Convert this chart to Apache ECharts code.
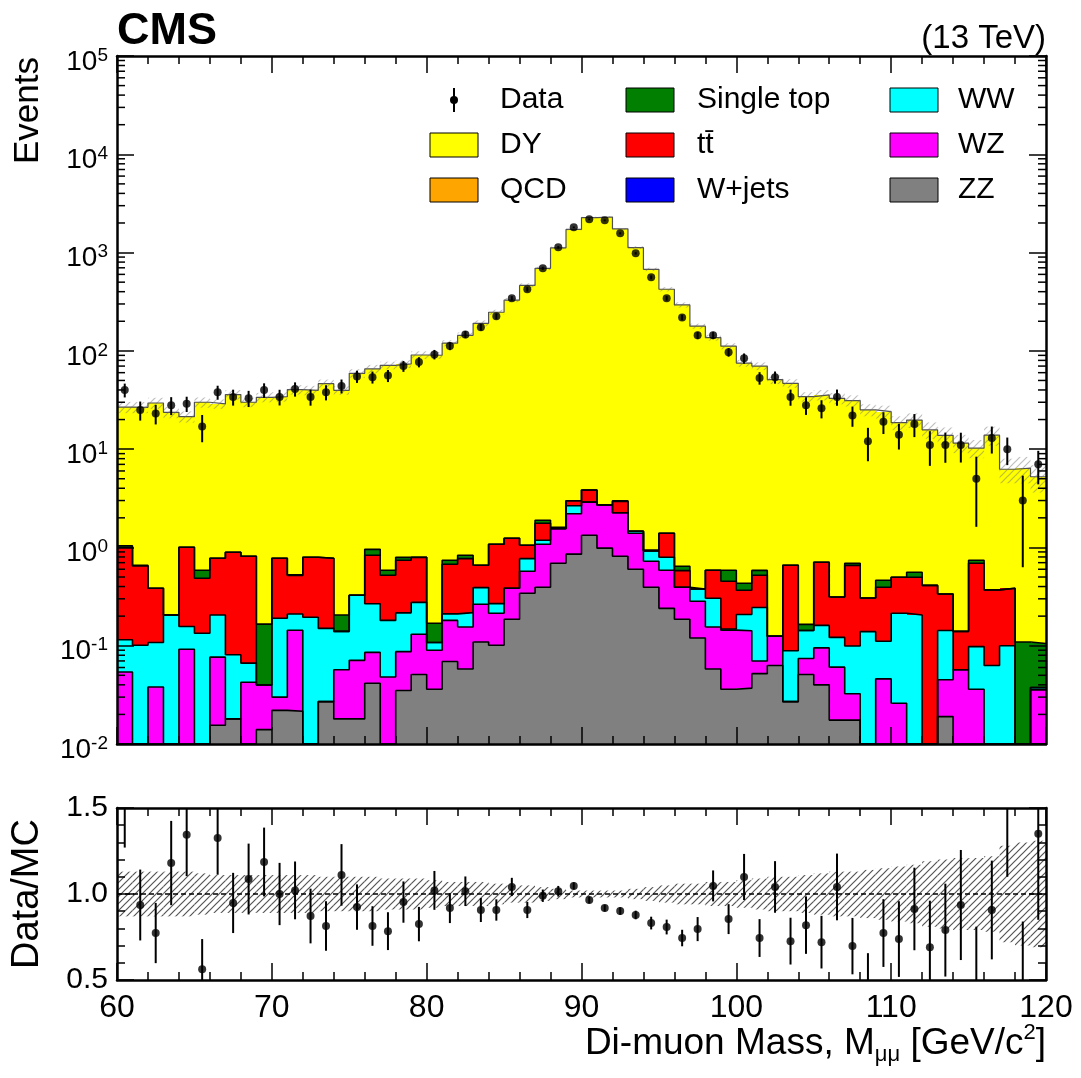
<!DOCTYPE html>
<html>
<head>
<meta charset="utf-8">
<script src="https://cdn.jsdelivr.net/npm/echarts@6.0.0/dist/echarts.min.js"></script>
<style>
  html, body { margin: 0; padding: 0; background: #fff; }
  #chart { width: 1081px; height: 1078px; }
</style>
</head>
<body>
<div id="chart"></div>
<script>
// binning: 60 bins of 1 GeV from 60 to 120
const xLow = 60
const xHigh = 120
const binW = 1
const nBins = 60

// MC components, events per bin (stack order: ZZ, WZ, WW, ttbar, single top, DY)
const zz = [0, 0, 0, 0, 0, 0, 0.0155, 0.018, 0, 0.014, 0.022, 0.0215, 0, 0.027, 0.018, 0.018, 0.0415, 0, 0.035, 0.051,
  0.036, 0.069, 0.058, 0.109, 0.101, 0.186, 0.342, 0.393, 0.690, 0.854, 1.33, 0.983, 0.813, 0.599, 0.393, 0.240, 0.186, 0.120, 0.058, 0.036,
  0.037, 0.052, 0.063, 0.027, 0.051, 0.040, 0.0175, 0.0175, 0, 0, 0, 0, 0, 0.019, 0, 0, 0, 0, 0, 0]
const wz = [0.054, 0, 0.038, 0, 0.092, 0, 0.061, 0, 0.0425, 0.026, 0.008, 0.122, 0, 0, 0.039, 0.053, 0.044, 0.048, 0.052, 0.080,
  0.054, 0.112, 0.097, 0.155, 0.113, 0.198, 0.230, 0.683, 0.865, 1.35, 1.56, 1.73, 1.44, 0.795, 0.330, 0.345, 0.207, 0.163, 0.097, 0.108,
  0.105, 0.018, 0.062, 0, 0.023, 0.055, 0.043, 0.015, 0, 0.046, 0.026, 0, 0, 0.026, 0.057, 0.036, 0, 0, 0, 0.0355]
const ww = [0.061, 0.101, 0.070, 0.205, 0.065, 0.134, 0.129, 0.063, 0.024, 0, 0.160, 0.067, 0.195, 0.123, 0.083, 0.255, 0.182, 0.133, 0.129, 0.145,
  0.018, 0.030, 0.062, 0.126, 0.054, 0, 0.198, 0.106, 0, 0.45, 0, 0, 0, 0.066, 0.197, 0.209, 0, 0.094, 0.149, 0.004,
  0.066, 0.175, 0, 0.062, 0.069, 0.066, 0.061, 0.067, 0.139, 0.065, 0.188, 0.205, 0, 0.098, 0, 0.062, 0.063, 0.100, 0, 0.002]
const ttbar = [0.889, 0.547, 0.276, 0, 0.847, 0.352, 0.571, 0.813, 0.747, 0, 0.586, 0.307, 0.599, 0.626, 0, 0, 0.564, 0.341, 0.524, 0.518,
  0, 0.463, 0.553, 0.268, 0.811, 0.856, 0.281, 0.580, 0.03, 0.33, 0.95, 0, 0.68, 0, 0, 0.600, 0.188, 0, 0.281, 0.305,
  0.159, 0.276, 0, 0.569, 0, 0.546, 0.192, 0.558, 0.167, 0.282, 0.283, 0.292, 0.411, 0.193, 0.083, 0.592, 0.307, 0.284, 0, 0]
const singleTop = [0.036, 0.01, 0, 0, 0, 0.099, 0, 0, 0, 0.126, 0, 0.008, 0, 0, 0.065, 0, 0.125, 0.063, 0.053, 0,
  0.061, 0.067, 0.062, 0, 0, 0, 0, 0.128, 0.02, 0, 0, 0, 0.05, 0, 0.022, 0, 0.062, 0, 0, 0.132,
  0.065, 0.063, 0, 0, 0.022, 0, 0, 0.032, 0, 0.070, 0, 0.062, 0, 0, 0, 0.051, 0, 0, 0.109, 0.068]
const dy = [25.7, 26.0, 29.1, 23.5, 20.4, 29.4, 28.1, 35.0, 29.2, 33.5, 33.4, 39.8, 38.9, 45.6, 39.5, 58.8, 64.5, 70.7, 72.8, 90.0,
  90.0, 119, 143, 190, 246, 327, 462, 690, 1115, 1717, 2266, 2297, 1742, 1124, 674, 422, 293, 178, 136, 111,
  74.6, 69.4, 50.9, 46.1, 34.0, 34.9, 32.6, 30.5, 24.8, 23.6, 18.1, 19.2, 15.3, 13.5, 11.4, 9.5, 13.5, 5.86, 6.3, 5.13]

// relative MC uncertainty per bin
const mcRelErr = [0.13, 0.13, 0.13, 0.13, 0.13, 0.12, 0.11, 0.11, 0.11, 0.11, 0.11, 0.11, 0.11, 0.10, 0.10, 0.10, 0.10, 0.09, 0.09, 0.09,
  0.08, 0.07, 0.07, 0.07, 0.06, 0.05, 0.05, 0.04, 0.03, 0.02, 0.02, 0.02, 0.02, 0.03, 0.04, 0.05, 0.06, 0.06, 0.07, 0.07,
  0.08, 0.09, 0.10, 0.10, 0.11, 0.12, 0.13, 0.13, 0.14, 0.15, 0.16, 0.17, 0.19, 0.20, 0.21, 0.21, 0.22, 0.28, 0.30, 0.31]

// observed events
const dataCounts = [40, 25, 23, 28, 29, 17, 38, 34, 33, 40, 34, 41, 34, 38, 44, 55, 54, 56, 70, 77,
  92, 112, 147, 174, 225, 343, 423, 692, 1130, 1807, 2178, 2128, 1570, 982, 560, 343, 219, 144, 144, 97,
  84, 53, 54, 34, 28, 26, 34, 22, 12, 19, 14, 18, 11, 11, 11, 5, 13, 10, 3, 7]

// data / MC and its error
const ratio = [1.51, 0.936, 0.773, 1.18, 1.344, 0.563, 1.326, 0.948, 1.087, 1.186, 1.0, 1.021, 0.872, 0.814, 1.111, 0.924, 0.814, 0.784, 0.953, 0.825,
  1.021, 0.918, 1.016, 0.907, 0.907, 1.041, 0.907, 0.990, 1.016, 1.047, 0.965, 0.918, 0.901, 0.878, 0.831, 0.808, 0.744, 0.796, 1.047, 0.854,
  1.099, 0.744, 1.041, 0.726, 0.819, 0.720, 1.041, 0.697, 0.478, 0.773, 0.738, 0.913, 0.691, 0.790, 0.936, 0.48, 0.907, 1.60, 0.47, 1.35]
const ratioErr = [0.24, 0.206, 0.175, 0.245, 0.24, 0.175, 0.214, 0.175, 0.206, 0.2, 0.181, 0.168, 0.159, 0.144, 0.179, 0.132, 0.115, 0.11, 0.12, 0.10,
  0.113, 0.087, 0.086, 0.07, 0.062, 0.053, 0.047, 0.036, 0.031, 0.021, 0.02, 0.02, 0.022, 0.025, 0.037, 0.043, 0.048, 0.07, 0.09, 0.087,
  0.134, 0.11, 0.15, 0.136, 0.167, 0.153, 0.194, 0.164, 0.178, 0.197, 0.22, 0.24, 0.27, 0.27, 0.32, 0.33, 0.287, 0.5, 0.37, 0.5]

const yTickExp = [-2, -1, 0, 1, 2, 3, 4, 5]

const FONT = "'Liberation Sans', Arial, Helvetica, sans-serif"
const YMIN = 0.01
const YMAX = 1e5

const stackDefs = [
  { name: 'ZZ', data: zz, color: '#808080' },
  { name: 'WZ', data: wz, color: '#ff00ff' },
  { name: 'WW', data: ww, color: '#00ffff' },
  { name: 'ttbar', data: ttbar, color: '#ff0000' },
  { name: 'Single top', data: singleTop, color: '#007f00' },
  { name: 'DY', data: dy, color: '#ffff00' }
]

// cumulative stack
let running = new Array(nBins).fill(0)
const layers = stackDefs.map(d => {
  const lo = running.slice()
  running = running.map((v, i) => v + d.data[i])
  return Object.assign({}, d, { lo: lo, hi: running.slice() })
})
const mcTotal = running

// hatch pattern for uncertainty bands
function hatch(color, size, lw) {
  const c = document.createElement('canvas')
  c.width = size
  c.height = size
  const ctx = c.getContext('2d')
  ctx.strokeStyle = color
  ctx.lineWidth = lw
  ctx.beginPath()
  ctx.moveTo(0, size); ctx.lineTo(size, 0)
  ctx.moveTo(-size / 2, size / 2); ctx.lineTo(size / 2, -size / 2)
  ctx.moveTo(size / 2, size * 1.5); ctx.lineTo(size * 1.5, size / 2)
  ctx.stroke()
  return c
}
const hatchMain = { image: hatch('rgba(110,110,110,0.45)', 7, 1.2), repeat: 'repeat' }
const hatchRatio = { image: hatch('#555555', 7, 1.2), repeat: 'repeat' }

function rectSeries(xi, yi, rows, fill, z) {
  // rows: [xLo, xHi, yLo, yHi]
  const solid = typeof fill === 'string'
  return {
    type: 'custom', xAxisIndex: xi, yAxisIndex: yi, clip: true, z: z, silent: true,
    encode: { x: 0, y: 3 },
    data: rows,
    renderItem(params, api) {
      const lo = Math.max(api.value(2), yi < 2 ? YMIN : -1)
      const hi = api.value(3)
      if (!(hi > lo)) return null
      const p0 = api.coord([api.value(0), hi])
      const p1 = api.coord([api.value(1), lo])
      let x0 = p0[0], y0 = p0[1], x1 = p1[0], y1 = p1[1]
      if (solid) {
        // snap to pixels so neighbouring bins join without seams
        x0 = Math.round(x0); x1 = Math.round(x1); y0 = Math.round(y0); y1 = Math.round(y1)
      }
      return {
        type: 'rect',
        shape: { x: x0, y: y0, width: x1 - x0, height: y1 - y0 },
        style: { fill: fill }
      }
    }
  }
}

function outlineSeries(vals, color, width) {
  const pts = vals.map((v, i) => [xLow + i * binW, Math.max(v, YMIN)])
  pts.push([xHigh, Math.max(vals[nBins - 1], YMIN)])
  return {
    type: 'line', xAxisIndex: 0, yAxisIndex: 0, step: 'end', symbol: 'none', z: 3, silent: true,
    lineStyle: { color: color, width: width },
    data: pts
  }
}

function errorSeries(xi, yi, pts, errs, floor) {
  return {
    type: 'custom', xAxisIndex: xi, yAxisIndex: yi, clip: true, z: 6, silent: true,
    encode: { x: 0, y: 1 },
    data: pts.map((p, i) => [p[0], p[1], errs[i]]),
    renderItem(params, api) {
      const x = api.value(0), v = api.value(1), e = api.value(2)
      const a = api.coord([x, v + e])
      const b = api.coord([x, Math.max(v - e, floor)])
      return {
        type: 'line',
        shape: { x1: a[0], y1: a[1], x2: b[0], y2: b[1] },
        style: { stroke: '#000', lineWidth: 2 }
      }
    }
  }
}

const centers = dataCounts.map((v, i) => xLow + (i + 0.5) * binW)
const dataPts = dataCounts.map((v, i) => [centers[i], v])
const dataErr = ratioErr.map((e, i) => e * mcTotal[i])
const ratioPts = ratio.map((v, i) => [centers[i], v])

const minorLog = []
for (let d = yTickExp[0]; d < yTickExp[yTickExp.length - 1]; d++) {
  for (let k = 2; k <= 9; k++) minorLog.push(k * Math.pow(10, d))
}

function xAx(grid, pos, labels) {
  return {
    type: 'value', gridIndex: grid, position: pos, min: xLow, max: xHigh, interval: 10, z: 10,
    axisLine: { show: true, onZero: false, lineStyle: { color: '#000', width: 2.5 } },
    axisTick: { show: true, inside: true, length: 17, lineStyle: { color: '#000', width: 1.5 } },
    minorTick: { show: true, splitNumber: 5, length: 8, lineStyle: { color: '#000', width: 1.5 } },
    splitLine: { show: false },
    minorSplitLine: { show: false },
    axisLabel: { show: labels, fontSize: 32, fontFamily: FONT, color: '#000', margin: 12 }
  }
}

function yLogAx(pos, labels) {
  return {
    type: 'log', logBase: 10, gridIndex: 0, position: pos, min: YMIN, max: YMAX, z: 10,
    axisLine: { show: true, onZero: false, lineStyle: { color: '#000', width: 2.5 } },
    axisTick: { show: true, inside: true, length: 17, lineStyle: { color: '#000', width: 1.5 } },
    minorTick: { show: false },
    splitLine: { show: false },
    axisLabel: {
      show: labels, margin: 9, color: '#000', fontFamily: FONT, showMinLabel: true, showMaxLabel: true,
      padding: [10, 0, 0, 0],
      formatter: v => '{b|10}{s|' + Math.round(Math.log10(v)) + '}',
      rich: {
        b: { fontSize: 28, lineHeight: 30, verticalAlign: 'bottom', fontFamily: FONT, color: '#000' },
        s: { fontSize: 19, lineHeight: 19, verticalAlign: 'top', fontFamily: FONT, color: '#000' }
      }
    }
  }
}

function yRatioAx(pos, labels) {
  return {
    type: 'value', gridIndex: 1, position: pos, min: 0.5, max: 1.5, interval: 0.5, z: 10,
    axisLine: { show: true, onZero: false, lineStyle: { color: '#000', width: 2.5 } },
    axisTick: { show: true, inside: true, length: 17, lineStyle: { color: '#000', width: 1.5 } },
    minorTick: { show: true, splitNumber: 5, length: 8, lineStyle: { color: '#000', width: 1.5 } },
    splitLine: { show: false },
    minorSplitLine: { show: false },
    axisLabel: {
      show: labels, margin: 9, fontSize: 30, fontFamily: FONT, color: '#000',
      showMinLabel: true, showMaxLabel: true, formatter: v => v.toFixed(1)
    }
  }
}

// legend, drawn as graphic elements
const legendEntries = [
  { label: 'Data', col: 0, row: 0, color: null },
  { label: 'DY', col: 0, row: 1, color: '#ffff00' },
  { label: 'QCD', col: 0, row: 2, color: '#ffa500' },
  { label: 'Single top', col: 1, row: 0, color: '#007f00' },
  { label: 't\u0074\u0304', col: 1, row: 1, color: '#ff0000' },
  { label: 'W+jets', col: 1, row: 2, color: '#0000ff' },
  { label: 'WW', col: 2, row: 0, color: '#00ffff' },
  { label: 'WZ', col: 2, row: 1, color: '#ff00ff' },
  { label: 'ZZ', col: 2, row: 2, color: '#808080' }
]
const legBoxX = [430, 626, 890]
const legTextX = [500, 697, 958]
const legRowY = [100, 145, 190]

const graphic = []
legendEntries.forEach(e => {
  const bx = legBoxX[e.col], cy = legRowY[e.row]
  if (e.color) {
    graphic.push({ type: 'rect', shape: { x: bx, y: cy - 12, width: 48, height: 24 },
      style: { fill: e.color, stroke: '#000', lineWidth: 1 }, z: 20 })
  } else {
    graphic.push({ type: 'line', shape: { x1: bx + 24, y1: cy - 12, x2: bx + 24, y2: cy + 12 },
      style: { stroke: '#000', lineWidth: 2 }, z: 20 })
    graphic.push({ type: 'circle', shape: { cx: bx + 24, cy: cy, r: 4 }, style: { fill: '#000' }, z: 20 })
  }
  graphic.push({ type: 'text', x: legTextX[e.col], y: cy, z: 20,
    style: { text: e.label, fontSize: 30, fontFamily: FONT, fill: '#000',
      align: 'left', verticalAlign: 'middle', textAlign: 'left', textVerticalAlign: 'middle' } })
})

graphic.push(
  { type: 'text', x: 117, y: 32, z: 20,
    style: { text: 'CMS', fontSize: 45, fontWeight: 'bold', fontFamily: FONT, fill: '#000',
      align: 'left', verticalAlign: 'middle', textAlign: 'left', textVerticalAlign: 'middle' } },
  { type: 'text', x: 1046, y: 39, z: 20,
    style: { text: '(13 TeV)', fontSize: 33, fontFamily: FONT, fill: '#000',
      align: 'right', verticalAlign: 'middle', textAlign: 'right', textVerticalAlign: 'middle' } },
  { type: 'text', x: 28, y: 57, rotation: Math.PI / 2, z: 20,
    style: { text: 'Events', fontSize: 35, fontFamily: FONT, fill: '#000',
      align: 'right', verticalAlign: 'middle', textAlign: 'right', textVerticalAlign: 'middle' } },
  { type: 'text', x: 28, y: 894, rotation: Math.PI / 2, z: 20,
    style: { text: 'Data/MC', fontSize: 38, fontFamily: FONT, fill: '#000',
      align: 'center', verticalAlign: 'middle', textAlign: 'center', textVerticalAlign: 'middle' } },
  { type: 'text', x: 1046, y: 1044, z: 20,
    style: {
      text: '{b|Di-muon Mass, M}{sub|\u03bc\u03bc}{b| [GeV/c}{sup|2}{b|]}',
      align: 'right', verticalAlign: 'middle', textAlign: 'right', textVerticalAlign: 'middle',
      rich: {
        b: { fontSize: 37, lineHeight: 44, verticalAlign: 'middle', fontFamily: FONT, fill: '#000', color: '#000' },
        sub: { fontSize: 22, verticalAlign: 'bottom', fontFamily: FONT, fill: '#000', color: '#000' },
        sup: { fontSize: 22, verticalAlign: 'top', fontFamily: FONT, fill: '#000', color: '#000' }
      }
    } }
)

const series = []
// stacked fills
layers.forEach(l => {
  series.push(rectSeries(0, 0, l.hi.map((h, i) => [xLow + i * binW, xLow + (i + 1) * binW, l.lo[i], h]), l.color, 2))
})
// histogram outlines
layers.forEach((l, k) => {
  const last = k === layers.length - 1
  series.push(outlineSeries(l.hi, last ? '#505050' : '#000', last ? 1.2 : 1.6))
})
// MC uncertainty band
series.push(rectSeries(0, 0, mcTotal.map((t, i) =>
  [xLow + i * binW, xLow + (i + 1) * binW, t * (1 - mcRelErr[i]), t * (1 + mcRelErr[i])]), hatchMain, 4))
// data
series.push(errorSeries(0, 0, dataPts, dataErr, YMIN))
series.push({
  type: 'scatter', xAxisIndex: 0, yAxisIndex: 0, symbol: 'circle', symbolSize: 8, z: 7, silent: true,
  itemStyle: { color: '#000' }, data: dataPts
})
// minor ticks on the log axis, both sides
series.push({
  type: 'custom', xAxisIndex: 0, yAxisIndex: 0, clip: false, z: 11, silent: true,
  encode: { x: 0, y: 1 },
  data: minorLog.map(v => [xLow, v]),
  renderItem(params, api) {
    const v = api.value(1)
    const l = api.coord([xLow, v]), r = api.coord([xHigh, v])
    return {
      type: 'group',
      children: [
        { type: 'line', shape: { x1: l[0], y1: l[1], x2: l[0] + 8, y2: l[1] }, style: { stroke: '#000', lineWidth: 1.5 } },
        { type: 'line', shape: { x1: r[0] - 8, y1: r[1], x2: r[0], y2: r[1] }, style: { stroke: '#000', lineWidth: 1.5 } }
      ]
    }
  }
})
// ratio panel
series.push(rectSeries(2, 2, mcRelErr.map((e, i) =>
  [xLow + i * binW, xLow + (i + 1) * binW, 1 - e, 1 + e]), hatchRatio, 3))
series.push({
  type: 'line', xAxisIndex: 2, yAxisIndex: 2, symbol: 'none', z: 4, silent: true,
  lineStyle: { color: '#000', width: 1.5, type: [5, 3] },
  data: [[xLow, 1], [xHigh, 1]]
})
series.push(errorSeries(2, 2, ratioPts, ratioErr, -1))
series.push({
  type: 'scatter', xAxisIndex: 2, yAxisIndex: 2, symbol: 'circle', symbolSize: 8, z: 7, silent: true, clip: true,
  itemStyle: { color: '#000' }, data: ratioPts
})

const chart = echarts.init(document.getElementById('chart'), null, { renderer: 'canvas' })
chart.setOption({
  animation: false,
  backgroundColor: '#fff',
  grid: [
    { left: 117, top: 56, width: 929, height: 688, show: false, containLabel: false, outerBoundsMode: 'none' },
    { left: 117, top: 808, width: 929, height: 172, show: false, containLabel: false, outerBoundsMode: 'none' }
  ],
  xAxis: [xAx(0, 'bottom', false), xAx(0, 'top', false), xAx(1, 'bottom', true), xAx(1, 'top', false)],
  yAxis: [yLogAx('left', true), yLogAx('right', false), yRatioAx('left', true), yRatioAx('right', false)],
  graphic: graphic,
  series: series
})
</script>
</body>
</html>
